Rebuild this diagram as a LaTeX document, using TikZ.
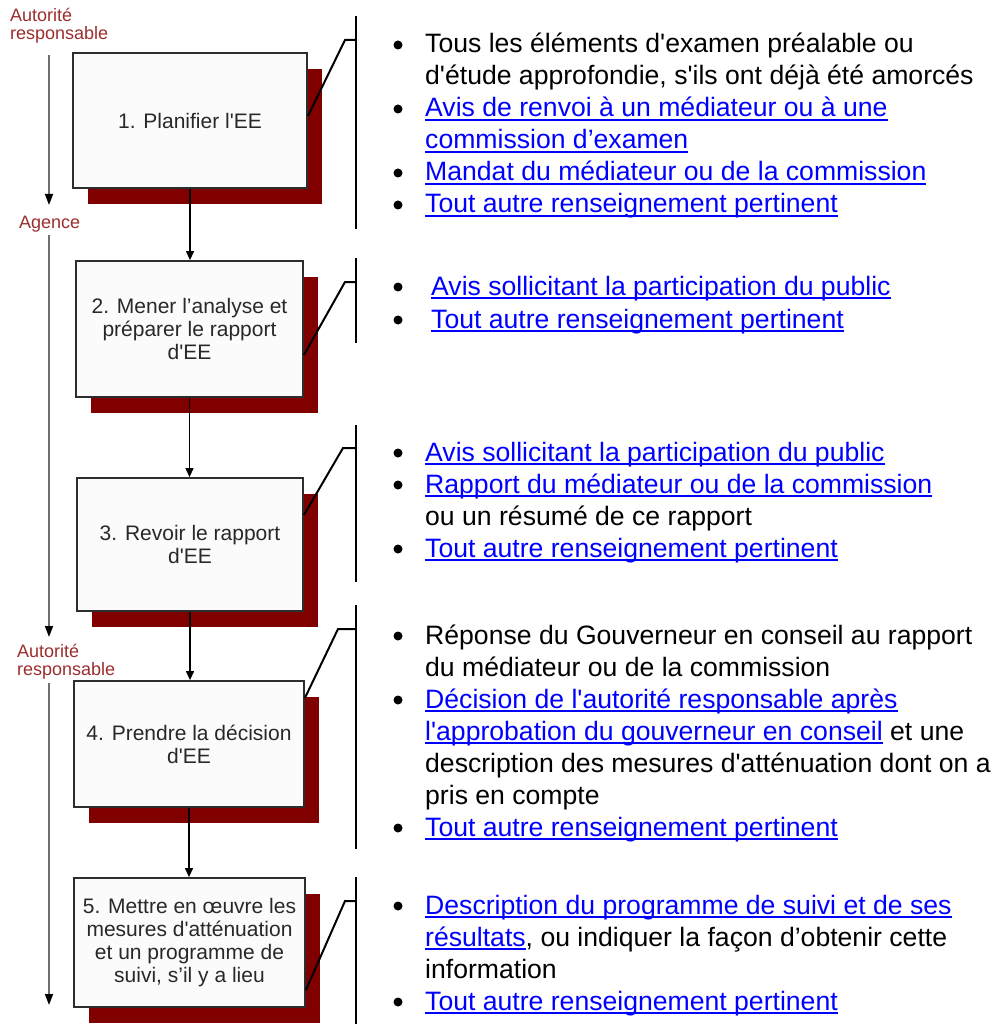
\documentclass[tikz,border=0pt]{standalone}
\usepackage{fontspec}
\setmainfont{Liberation Sans}[Ligatures=TeXOff]
\usetikzlibrary{arrows.meta,shadows}
\definecolor{shred}{RGB}{128,0,0}
\definecolor{lblred}{RGB}{155,45,45}
\definecolor{linkblue}{RGB}{0,0,255}
\definecolor{boxtext}{RGB}{40,40,40}
\definecolor{boxline}{RGB}{45,45,45}
\definecolor{boxfill}{RGB}{251,251,251}
\definecolor{grayarrow}{RGB}{110,110,110}
\newcommand\lnk[1]{{\color{linkblue}\sbox0{#1}\rlap{\raisebox{-4pt}{\rule{\wd0}{2pt}}}\usebox0}}
\begin{document}
\begin{tikzpicture}[x=1pt,y=-1pt,
  stepbox/.style={draw=boxline, line width=1.8pt, fill=boxfill, text=boxtext, align=center,
    font=\fontsize{21}{23}\selectfont, inner sep=0pt,
    drop shadow={shadow xshift=15pt, shadow yshift=-16pt, opacity=1, fill=shred, draw=none}},
  lbl/.style={anchor=base west, inner sep=0pt, text=lblred, font=\fontsize{18}{18}\selectfont},
  bt/.style={anchor=base west, inner sep=0pt, font=\fontsize{26.6}{32}\selectfont},
  grayarr/.style={draw=grayarrow, line width=1.5pt, -{Triangle[length=11pt,width=8pt,color=black]}},
  arr/.style={draw=black, line width=1.2pt, -{Triangle[length=9pt,width=8pt]}},
  brk/.style={draw=black, line width=2pt},
  dot/.style={fill=black}]
\useasboundingbox (0,0) rectangle (1001,1024);

% boxes
\node[stepbox, minimum width=234pt, minimum height=135pt] (b1) at (190,120.5) {1. Planifier l'EE};
\node[stepbox, minimum width=227pt, minimum height=136pt] (b2) at (189.5,329) {2. Mener l’analyse et\\préparer le rapport\\d'EE};
\node[stepbox, minimum width=226pt, minimum height=133pt] (b3) at (190,544.5) {3. Revoir le rapport\\d'EE};
\node[stepbox, minimum width=230pt, minimum height=126pt] (b4) at (189,744) {4. Prendre la décision\\d'EE};
\node[stepbox, minimum width=231pt, minimum height=129pt] (b5) at (189.5,942.5) {5. Mettre en œuvre les\\mesures d'atténuation\\et un programme de\\suivi, s’il y a lieu};

% arrows between boxes
\draw[arr] (b1.south) -- (b1.south |- b2.north);
\draw[arr] (b2.south) -- (b2.south |- b3.north);
\draw[arr] (b3.south) -- (b3.south |- b4.north);
\draw[arr] (b4.south) -- (b4.south |- b5.north);

% left labels
\node[lbl] (l1a) at (10,22) {Autorité};
\node[lbl] (l1b) at (10,40) {responsable};
\node[lbl] (ag) at (19,229) {Agence};
\node[lbl] (l2a) at (17,657) {Autorité};
\node[lbl] (l2b) at (17,675) {responsable};

\coordinate (g1s) at (49,55);  \coordinate (g1e) at (49,205);
\coordinate (g2s) at (49,235); \coordinate (g2e) at (49,637);
\coordinate (g3s) at (49,683); \coordinate (g3e) at (49,1005);
\draw[grayarr] (g1s) -- (g1e);
\draw[grayarr] (g2s) -- (g2e);
\draw[grayarr] (g3s) -- (g3e);

% brackets
\draw[brk] (356,16) -- (356,229);
\coordinate (k1) at (356,40);
\draw[brk] ([yshift=4.5pt]b1.east) -- (345,40) -- (k1);

\draw[brk] (356,258) -- (356,343);
\coordinate (k2) at (356,282);
\draw[brk] ([yshift=-26pt]b2.east) -- (345,282) -- (k2);

\draw[brk] (356,425) -- (356,582);
\coordinate (k3) at (356,448);
\draw[brk] ([yshift=29.5pt]b3.east) -- (343,448) -- (k3);

\draw[brk] (356,605) -- (356,849);
\coordinate (k4) at (356,629);
\draw[brk] ([yshift=46pt]b4.east) -- (338,629) -- (k4);

\draw[brk] (356,877) -- (356,1024);
\coordinate (k5) at (356,901);
\draw[brk] ([yshift=-47.5pt]b5.east) -- (345,901) -- (k5);

% block 1
\node[bt] (t11) at (425,53) {Tous les éléments d'examen préalable ou};
\node[bt] (t12) at (425,85) {d'étude approfondie, s'ils ont déjà été amorcés};
\node[bt] (t13) at (425,117) {\lnk{Avis de renvoi à un médiateur ou à une}};
\node[bt] (t14) at (425,149) {\lnk{commission d’examen}};
\node[bt] (t15) at (425,181) {\lnk{Mandat du médiateur ou de la commission}};
\node[bt] (t16) at (425,213) {\lnk{Tout autre renseignement pertinent}};
\fill[dot] (398,45) circle (4.5pt);
\fill[dot] (398,109) circle (4.5pt);
\fill[dot] (398,173) circle (4.5pt);
\fill[dot] (398,205) circle (4.5pt);

% block 2
\node[bt] (t21) at (431,295) {\lnk{Avis sollicitant la participation du public}};
\node[bt] (t22) at (431,328) {\lnk{Tout autre renseignement pertinent}};
\fill[dot] (398,287) circle (4.5pt);
\fill[dot] (398,320) circle (4.5pt);

% block 3
\node[bt] (t31) at (425,461) {\lnk{Avis sollicitant la participation du public}};
\node[bt] (t32) at (425,493) {\lnk{Rapport du médiateur ou de la commission}};
\node[bt] (t33) at (425,525) {ou un résumé de ce rapport};
\node[bt] (t34) at (425,557) {\lnk{Tout autre renseignement pertinent}};
\fill[dot] (398,453) circle (4.5pt);
\fill[dot] (398,485) circle (4.5pt);
\fill[dot] (398,549) circle (4.5pt);

% block 4
\node[bt] (t41) at (425,644) {Réponse du Gouverneur en conseil au rapport};
\node[bt] (t42) at (425,676) {du médiateur ou de la commission};
\node[bt] (t43) at (425,708) {\lnk{Décision de l'autorité responsable après}};
\node[bt] (t44) at (425,740) {\lnk{l'approbation du gouverneur en conseil} et une};
\node[bt] (t45) at (425,772) {description des mesures d'atténuation dont on a};
\node[bt] (t46) at (425,804) {pris en compte};
\node[bt] (t47) at (425,836) {\lnk{Tout autre renseignement pertinent}};
\fill[dot] (398,636) circle (4.5pt);
\fill[dot] (398,700) circle (4.5pt);
\fill[dot] (398,828) circle (4.5pt);

% block 5
\node[bt] (t51) at (425,914) {\lnk{Description du programme de suivi et de ses}};
\node[bt] (t52) at (425,946) {\lnk{résultats}, ou indiquer la façon d’obtenir cette};
\node[bt] (t53) at (425,978) {information};
\node[bt] (t54) at (425,1010) {\lnk{Tout autre renseignement pertinent}};
\fill[dot] (398,906) circle (4.5pt);
\fill[dot] (398,1002) circle (4.5pt);
\end{tikzpicture}
\end{document}
